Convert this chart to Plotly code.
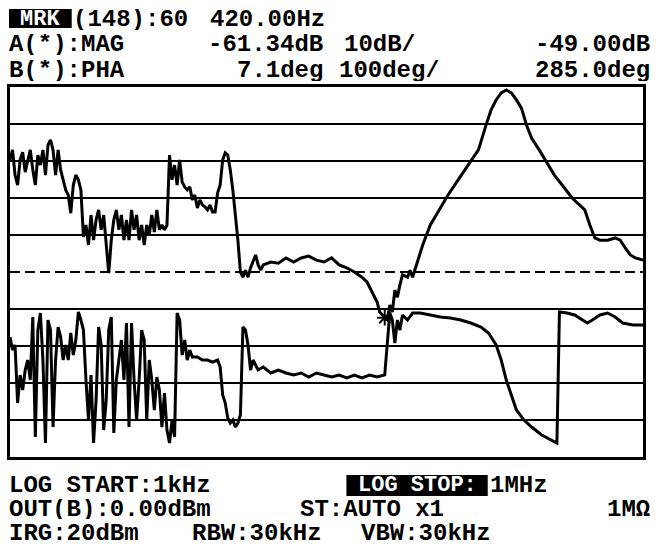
import plotly.graph_objects as go
import math

# ---------------- data (sweep point index 0..250, log sweep 1 kHz .. 1 MHz) ----------------
START_HZ = 1e3
STOP_HZ = 1e6
N_INTERVALS = 250

mag_points = [0, 1, 2, 3, 4, 5, 6, 7, 8, 9, 10, 11, 12, 13, 14, 15, 16, 17, 18, 19, 20,
              21, 22, 23, 24, 25, 26, 27, 28, 29, 30, 31, 32, 33, 34, 35, 36, 37, 38, 39, 40,
              41, 42, 43, 44, 45, 46, 47, 48, 49, 50, 51, 52, 53, 54, 55, 56, 57, 58, 59, 60,
              61, 62, 63, 64, 65, 66, 67, 68, 69, 70, 71, 72, 73, 74, 75, 76, 77, 78, 79, 80,
              81, 82, 83, 84, 85, 86, 87, 88, 89, 90, 91, 92, 93, 94, 95, 96, 97, 98, 99, 100,
              103, 106, 109, 112, 115, 118, 121, 124, 127, 130, 133, 136, 139, 141, 143, 145,
              146, 148, 149, 150, 151, 152, 153, 154, 155, 157, 158, 159, 161, 163, 166, 169,
              173, 177, 181, 185, 188, 190, 192, 194, 196, 198, 200, 202, 204, 206, 209, 212,
              215, 219, 222, 225, 227, 229, 231, 233, 236, 239, 241, 243, 245, 247, 250]
mag_db = [-18.7, -16.0, -22.8, -25.5, -18.7, -16.6, -22.0, -18.7, -16.0, -21.4, -25.5,
          -17.4, -20.1, -16.0, -22.8, -14.7, -13.3, -16.0, -22.8, -16.0, -21.4,
          -24.1, -26.8, -28.2, -33.1, -25.5, -22.8, -24.1, -26.8, -39.5, -36.3,
          -41.7, -33.6, -40.4, -34.9, -32.2, -37.6, -33.6, -41.7, -49.3, -40.4,
          -34.9, -32.2, -37.6, -33.6, -40.4, -34.9, -40.4, -32.2, -37.6, -33.6,
          -40.4, -36.3, -41.7, -36.3, -39.0, -33.6, -38.2, -32.2, -37.6, -36.3,
          -37.6, -36.3, -17.4, -24.1, -20.1, -25.5, -18.7, -24.7, -26.0, -26.8,
          -26.0, -29.5, -28.2, -31.7, -29.5, -30.9, -31.4, -32.2, -30.9, -32.8,
          -32.8, -27.6, -25.5, -18.7, -16.8, -17.4, -21.4, -26.8, -33.1, -40.4,
          -49.0, -50.4, -48.5, -50.4, -47.9, -46.3, -44.4, -47.1, -48.5, -47.1,
          -46.3, -46.6, -45.2, -46.3, -45.2, -44.7, -45.8, -46.3, -45.2, -47.1,
          -47.9, -49.0, -50.4, -51.7, -54.4, -57.1,
          -59.8, -61.34, -62.0, -57.9, -59.8, -53.9, -55.8, -52.5, -49.8, -50.4,
          -48.5, -50.4, -46.3, -41.7, -36.3, -32.8,
          -28.2, -24.1, -20.1, -16.0, -9.3, -5.2, -2.5, -0.6, 0.2, -0.6, -2.5,
          -4.7, -9.3, -12.8, -16.0, -19.3,
          -22.8, -26.3, -29.0, -30.9, -32.2, -36.3, -39.8, -40.4, -40.4, -39.8,
          -40.4, -42.5, -44.4, -45.2, -45.8]

pha_points = [0, 1, 2, 3, 4, 5, 6, 7, 8, 9, 10, 11, 12, 13, 14, 15, 16, 17, 18, 19, 20,
              21, 22, 23, 24, 25, 26, 27, 28, 29, 30, 31, 32, 33, 34, 35, 36, 37, 38, 39, 40,
              41, 42, 43, 44, 45, 46, 47, 48, 49, 50, 51, 52, 53, 54, 55, 56, 57, 58, 59, 60,
              61, 62, 63, 64, 65, 66, 67, 68, 69, 70, 71, 72, 74, 76, 78, 80, 82, 83, 84, 85,
              86, 87, 88, 89, 90, 91, 92, 93, 94, 95, 96, 97, 98, 100, 103, 106, 109, 112,
              115, 118, 121, 124, 127, 130, 133, 136, 139, 142, 145, 148, 150, 151, 152,
              153, 154, 155, 157, 159, 162, 166, 170, 174, 178, 182, 186, 189, 192, 194,
              196, 198, 200, 203, 206, 210, 214, 216, 217, 220, 223, 226, 228, 230, 233,
              236, 239, 242, 246, 250]
pha_deg = [109.3, 74.1, 87.7, -69.1, 6.6, -34.0, 20.1, 47.1, -6.9, 163.3, -161.0,
           128.2, 174.2, 47.1, -177.2, 155.2, 128.2, -134.0, 47.1, 136.3, 109.3,
           47.1, 87.7, 47.1, 120.1, 60.6, 101.2, 176.9, 155.2, 128.2, -6.9,
           -115.1, 6.6, -177.2, -61.0, 136.3, 87.7, -142.1, -61.0, 128.2, 163.3,
           -150.2, -6.9, 47.1, 101.2, -6.9, 147.1, -134.0, 147.1, -6.9, -115.1,
           -6.9, 128.2, 101.2, -115.1, 47.1, -6.9, -88.0, 1.2, -34.0, -134.0,
           -42.1, -142.1, -177.2, -115.1, -161.0, 174.2, 155.2, 60.6, 101.2, 47.1,
           74.1, 55.2, 55.2, 47.1, 47.1, 41.7, 47.1, 28.2, -47.5, -69.1,
           -109.7, -123.2, -115.1, -134.0, -123.2, -101.5, 136.3, 128.2, 87.7, 20.1,
           47.1, 33.6, 20.1, 28.2, 12.0, 20.1, 12.0, 6.6,
           12.0, 1.2, 12.0, 6.6, 1.2, 6.6, -1.5, 6.6, -1.5, 6.6, 1.2, 7.1, 174.2, 155.2, 93.1,
           155.2, 128.2, 168.8, 155.2, 174.2, 174.2, 168.8, 163.3, 160.6, 155.2, 147.1, 136.3,
           120.1, 87.7, 47.1,
           -6.9, -47.5, -88.0, -115.1, -134.0, -155.6, -169.1, -177.2, 176.9, 174.2, 168.8,
           155.2, 147.1, 155.2, 168.8,
           174.2, 163.3, 147.1, 141.7, 141.7]

marker_point = [148]
marker_mag = [-61.34]

MAG_REF_DB = -49.0      # centre line
MAG_PER_DIV = 10.0
PHA_REF_DEG = 285.0     # centre line
PHA_PER_DIV = 100.0
grid_freqs_dashed = [3e3, 3e4, 3e5]
grid_freqs_solid = [1e4, 1e5]


def to_hz(points):
    return [START_HZ * 10 ** (math.log10(STOP_HZ / START_HZ) * p / N_INTERVALS) for p in points]


# ---------------- figure ----------------
W, H = 656, 548
L, R, T, B = 10, 10, 87, 91
PW, PH = W - L - R, H - T - B

fig = go.Figure()
fig.add_trace(go.Scatter(x=to_hz(mag_points), y=mag_db, mode='lines',
                         line=dict(color='black', width=3), yaxis='y', hoverinfo='skip'))
fig.add_trace(go.Scatter(x=to_hz(pha_points), y=pha_deg, mode='lines',
                         line=dict(color='black', width=3), yaxis='y2', hoverinfo='skip'))
fig.add_trace(go.Scatter(x=to_hz(marker_point), y=marker_mag, mode='markers',
                         marker=dict(symbol='asterisk-open', size=13, color='black',
                                     line=dict(color='black', width=2)),
                         yaxis='y', hoverinfo='skip'))

mag_lo = MAG_REF_DB - 5 * MAG_PER_DIV
mag_hi = MAG_REF_DB + 5 * MAG_PER_DIV
pha_lo = PHA_REF_DEG - 5 * PHA_PER_DIV
pha_hi = PHA_REF_DEG + 5 * PHA_PER_DIV

DASH = '10px,5px'
shapes = []
# horizontal grid
for k in range(1, 10):
    yv = mag_lo + k * MAG_PER_DIV
    shapes.append(dict(type='line', xref='paper', yref='y', x0=0, x1=1, y0=yv, y1=yv,
                       line=dict(color='black', width=2,
                                 dash=DASH if k == 5 else 'solid'), layer='below'))
# vertical grid
for f in grid_freqs_dashed:
    lf = math.log10(f)
    shapes.append(dict(type='line', xref='x', yref='paper', x0=lf, x1=lf, y0=0, y1=1,
                       line=dict(color='black', width=2, dash=DASH), layer='below'))
for f, wd in zip(grid_freqs_solid, [1.5, 3]):
    lf = math.log10(f)
    shapes.append(dict(type='line', xref='x', yref='paper', x0=lf, x1=lf, y0=0, y1=1,
                       line=dict(color='black', width=wd), layer='below'))


def px(x):
    return (x - L) / PW


def py(y):
    return 1 - (y - T) / PH


FONT = "Liberation Mono"
annotations = []


def txt(s, x, y, anchor='left', size=24, color='black', h=21):
    annotations.append(dict(text=s, x=px(x), y=py(y), xref='paper', yref='paper',
                            xanchor=anchor, yanchor='middle', showarrow=False,
                            height=h, borderpad=0,
                            font=dict(family=FONT, size=size, color=color, weight='bold')))


def inv_box(x0, x1, y0, y1):
    shapes.append(dict(type='rect', xref='paper', yref='paper', x0=px(x0), x1=px(x1),
                       y0=py(y1), y1=py(y0), fillcolor='black', line=dict(width=0)))


# header
HS = 24
inv_box(9, 72, 9, 28)
txt("MRK", 40, 19, 'center', 22, 'white')
txt("(148):60", 72, 19, size=HS)
txt("420.00Hz", 210, 19, size=HS)
txt("A(*):MAG", 8, 44, size=HS)
txt("-61.34dB", 325, 44, 'right', size=HS)
txt("10dB/", 345, 44, size=HS)
txt("-49.00dB", 654, 44, 'right', size=HS)
txt("B(*):PHA", 8, 70, size=HS)
txt("7.1deg", 325, 70, 'right', size=HS)
txt("100deg/", 340, 70, size=HS)
txt("285.0deg", 654, 70, 'right', size=HS)

# footer
FS = 24
Y1, Y2, Y3 = 485, 509, 533
txt("LOG START:1kHz", 8, Y1, size=FS, h=20)
inv_box(348, 490, 475, 496)
txt("LOG STOP:", 419, Y1, 'center', 22, 'white', h=20)
txt("1MHz", 491, Y1, size=FS, h=20)
txt("OUT(B):0.00dBm", 8, Y2, size=FS, h=20)
txt("ST:AUTO x1", 300, Y2, size=FS, h=20)
txt("1MΩ", 654, Y2, 'right', size=FS, h=20)
txt("IRG:20dBm", 8, Y3, size=FS, h=20)
txt("RBW:30kHz", 192, Y3, size=FS, h=20)
txt("VBW:30kHz", 362, Y3, size=FS, h=20)

axis_common = dict(showgrid=False, zeroline=False, showticklabels=False, ticks='',
                   fixedrange=True)
fig.update_layout(
    width=W, height=H,
    margin=dict(l=L, r=R, t=T, b=B, pad=0),
    paper_bgcolor='white', plot_bgcolor='white',
    showlegend=False,
    xaxis=dict(type='log', range=[math.log10(START_HZ), math.log10(STOP_HZ)],
               showline=True, mirror=True, linecolor='black', linewidth=3, **axis_common),
    yaxis=dict(range=[mag_lo, mag_hi], showline=True, mirror=True, linecolor='black',
               linewidth=3, **axis_common),
    yaxis2=dict(range=[pha_lo, pha_hi], overlaying='y', visible=False, **axis_common),
    shapes=shapes,
    annotations=annotations,
)

fig.write_html("out.html", config={'displayModeBar': False},
               post_script="document.body.style.margin='0';document.body.style.overflow='hidden';")
